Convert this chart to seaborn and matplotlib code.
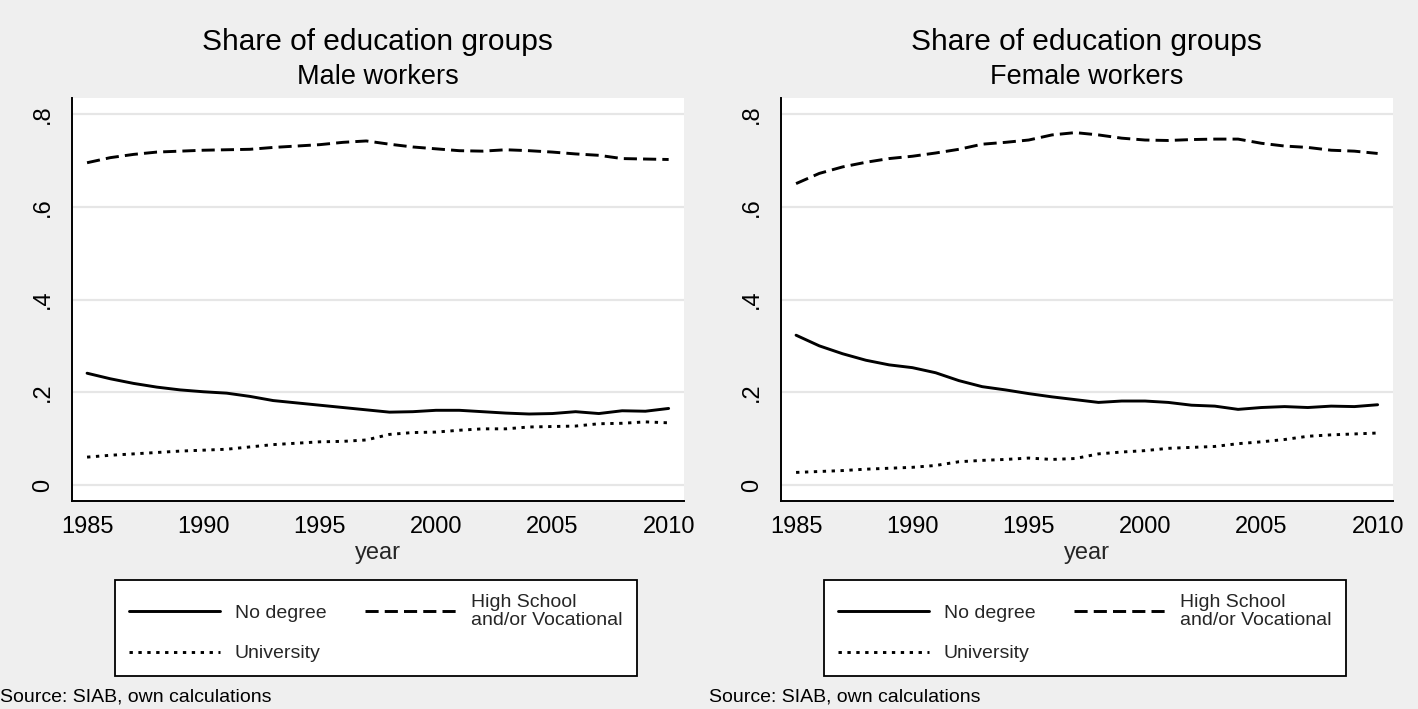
import matplotlib
matplotlib.use("Agg")
import matplotlib.pyplot as plt
from matplotlib.lines import Line2D
import seaborn as sns
import pandas as pd

# ---------------- data ----------------
years = list(range(1985, 2011))
groups = ["No degree", "High School\nand/or Vocational", "University"]

male_no_degree = [0.241, 0.229, 0.219, 0.211, 0.205, 0.201, 0.198, 0.191, 0.182, 0.177,
                  0.172, 0.167, 0.162, 0.157, 0.158, 0.161, 0.161, 0.158, 0.155, 0.153,
                  0.154, 0.158, 0.154, 0.160, 0.159, 0.165]
male_high_school = [0.695, 0.706, 0.713, 0.718, 0.720, 0.722, 0.723, 0.724, 0.728, 0.731,
                    0.734, 0.739, 0.742, 0.735, 0.729, 0.725, 0.721, 0.720, 0.723, 0.721,
                    0.718, 0.714, 0.711, 0.704, 0.703, 0.702]
male_university = [0.060, 0.064, 0.067, 0.070, 0.073, 0.075, 0.077, 0.082, 0.087, 0.090,
                   0.093, 0.094, 0.097, 0.109, 0.113, 0.114, 0.118, 0.121, 0.121, 0.125,
                   0.126, 0.127, 0.132, 0.133, 0.136, 0.134]

female_no_degree = [0.323, 0.300, 0.283, 0.269, 0.259, 0.253, 0.242, 0.225, 0.212, 0.205,
                    0.197, 0.190, 0.184, 0.178, 0.181, 0.181, 0.178, 0.172, 0.170, 0.163,
                    0.167, 0.169, 0.167, 0.170, 0.169, 0.173]
female_high_school = [0.650, 0.672, 0.686, 0.696, 0.704, 0.709, 0.716, 0.724, 0.735, 0.739,
                      0.744, 0.755, 0.760, 0.755, 0.748, 0.744, 0.743, 0.745, 0.746, 0.746,
                      0.737, 0.731, 0.728, 0.722, 0.720, 0.715]
female_university = [0.027, 0.029, 0.031, 0.034, 0.036, 0.038, 0.042, 0.050, 0.053, 0.055,
                     0.058, 0.055, 0.057, 0.067, 0.071, 0.074, 0.079, 0.081, 0.083, 0.089,
                     0.093, 0.098, 0.105, 0.108, 0.110, 0.112]

x_ticks = [1985, 1990, 1995, 2000, 2005, 2010]
y_ticks = [0, 0.2, 0.4, 0.6, 0.8]
y_tick_labels = ["0", ".2", ".4", ".6", ".8"]

title = "Share of education groups"
subtitles = ["Male workers", "Female workers"]
source = "Source: SIAB, own calculations"

# ---------------- style ----------------
BG = "#EFEFEF"
GRID = "#E6E6E6"
sns.set_theme(style="white")
plt.rcParams["font.family"] = ["Liberation Sans", "DejaVu Sans"]

W, H = 1418, 709
fig = plt.figure(figsize=(W / 100, H / 100), dpi=100, facecolor=BG)

LW = 2.1
dash_styles = {groups[0]: "", groups[1]: (4.5, 2.1), groups[2]: (1.15, 1.9)}


def make_df(nd, hs, un):
    rows = []
    for g, vals in zip(groups, [nd, hs, un]):
        for yr, v in zip(years, vals):
            rows.append({"year": yr, "share": v, "group": g})
    return pd.DataFrame(rows)


panels = [
    (make_df(male_no_degree, male_high_school, male_university), subtitles[0], 71.7),
    (make_df(female_no_degree, female_high_school, female_university), subtitles[1], 780.7),
]

ax_w, ax_top, ax_bot = 612.3, 98.3, 500.7

for df, sub, x0 in panels:
    ax = fig.add_axes([x0 / W, (H - ax_bot) / H, ax_w / W, (ax_bot - ax_top) / H])
    ax.set_facecolor("white")
    sns.lineplot(data=df, x="year", y="share", style="group", style_order=groups,
                 dashes=dash_styles, color="black", linewidth=LW, legend=False, ax=ax)
    ax.set_xlim(1984.34, 2010.66)
    ax.set_ylim(-0.034, 0.834)
    ax.set_xticks(x_ticks)
    ax.set_xticklabels([str(t) for t in x_ticks], fontsize=17)
    ax.set_yticks(y_ticks)
    ax.set_yticklabels(y_tick_labels, fontsize=17, rotation=90, va="center")
    ax.tick_params(axis="x", direction="out", length=6, width=1.3, pad=5, colors="black")
    ax.tick_params(axis="y", direction="out", length=7, width=1.3, pad=6, colors="black")
    ax.grid(axis="y", color=GRID, linewidth=1.6)
    ax.grid(axis="x", visible=False)
    ax.set_axisbelow(True)
    for s in ["top", "right"]:
        ax.spines[s].set_visible(False)
    for s in ["left", "bottom"]:
        ax.spines[s].set_color("black")
        ax.spines[s].set_linewidth(1.4)
    ax.set_xlabel("year", fontsize=17, labelpad=3)
    ax.set_ylabel("")

    cx = (x0 + ax_w / 2) / W
    fig.text(cx, 1 - 42 / H, title, ha="center", va="center", fontsize=21.5, color="black")
    fig.text(cx, 1 - 77 / H, sub, ha="center", va="center", fontsize=19.5, color="black")
    fig.text((x0 - 71.7) / W, 1 - 697 / H, source, ha="left", va="center",
             fontsize=14, color="black")

    handles = [
        Line2D([], [], color="black", linewidth=LW, linestyle="-"),
        Line2D([], [], color="black", linewidth=LW, dashes=dash_styles[groups[2]]),
        Line2D([], [], color="black", linewidth=LW, dashes=dash_styles[groups[1]]),
    ]
    labels = [groups[0], groups[2], groups[1]]
    leg = ax.legend(handles, labels, ncol=2, loc="upper center",
                    bbox_to_anchor=(0.5 - 2 / ax_w, (ax_bot - 580) / (ax_bot - ax_top)),
                    borderaxespad=0, fontsize=14, handlelength=4.7, handletextpad=0.75,
                    columnspacing=2.0, labelspacing=1.18, borderpad=0.72,
                    frameon=True, fancybox=False, shadow=False, framealpha=1)
    fr = leg.get_frame()
    fr.set_edgecolor("black")
    fr.set_linewidth(1.3)
    fr.set_facecolor("white")
    for t in leg.get_texts():
        t.set_linespacing(1.05)

fig.savefig("out.png", dpi=100, facecolor=BG)
